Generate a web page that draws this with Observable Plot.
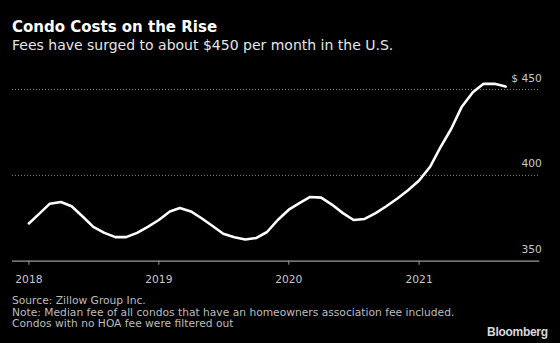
<!DOCTYPE html>
<html>
<head>
<meta charset="utf-8">
<script src="https://cdn.jsdelivr.net/npm/d3@7"></script>
<script src="https://cdn.jsdelivr.net/npm/@observablehq/plot@0.6"></script>
<style>
  html, body { margin: 0; padding: 0; background: #000; }
  #wrap { position: relative; width: 560px; height: 343px; background: #000; overflow: hidden; font-family: "DejaVu Sans", sans-serif; }
  .title { position: absolute; left: 12px; top: 19.6px; font-size: 15px; line-height: 15px; font-weight: bold; color: #fff; white-space: nowrap; }
  .subtitle { position: absolute; left: 12px; top: 38.2px; font-size: 14px; line-height: 14px; color: #e6e6e6; white-space: nowrap; }
  #chart { position: absolute; left: 0; top: 60px; }
  .foot { position: absolute; left: 12px; top: 294.8px; font-size: 10.7px; line-height: 11.7px; color: #bdbdbd; white-space: nowrap; }
  .brand { position: absolute; right: 12.3px; top: 325.8px; font-family: "Liberation Sans", Arial, sans-serif; font-weight: bold; font-size: 12px; line-height: 12px; letter-spacing: -0.3px; color: #d9d9d9; }
</style>
</head>
<body>
<div id="wrap">
  <div class="title">Condo Costs on the Rise</div>
  <div class="subtitle">Fees have surged to about $450 per month in the U.S.</div>
  <div id="chart"></div>
  <div class="foot">Source: Zillow Group Inc.<br>Note: Median fee of all condos that have an homeowners association fee included.<br>Condos with no HOA fee were filtered out</div>
  <div class="brand">Bloomberg</div>
</div>
<script>
// Monthly median condo HOA fee (USD), Jan 2018 – Sep 2021
const startMonth = "2018-01";
const fees = [
  372, 378, 383.5, 384.5, 382, 376, 370, 366.5, 364, 364, 366.5, 370,
  374, 379, 381, 379, 375, 370.5, 366, 364, 362.6, 363.5, 367, 374,
  380, 384, 387.4, 387, 383, 378, 374, 374.6, 378, 382, 386.5, 391.3,
  397, 405, 416, 427, 440, 448.4, 453.3, 453.3, 451.7
];
const xTickYears = [2018, 2019, 2020, 2021];
const yTicks = [350, 400, 450];
const yTickLabels = ["350", "400", "$ 450"];

const start = new Date(startMonth + "-01T00:00:00Z");
const data = fees.map((v, i) => ({date: d3.utcMonth.offset(start, i), value: v}));
const xTicks = xTickYears.map(y => new Date(Date.UTC(y, 0, 1)));
const yLabelRows = yTicks.map((v, i) => ({value: v, label: yTickLabels[i]}));

const chart = Plot.plot({
  width: 560,
  height: 230,
  marginLeft: 12,
  marginRight: 20.7,
  marginTop: 29,
  marginBottom: 29.3,
  style: {background: "transparent", fontFamily: "DejaVu Sans, sans-serif", fontSize: "10.7px", color: "#c8c8c8"},
  x: {type: "utc", domain: [new Date(Date.UTC(2017, 10, 16)), new Date(Date.UTC(2021, 11, 6))]},
  y: {domain: [350, 450], axis: null},
  marks: [
    Plot.ruleY(yTicks.filter(v => v !== 350), {stroke: "#8a8a8a", strokeDasharray: "1,2", strokeWidth: 1}),
    Plot.ruleY([350], {stroke: "#9a9a9a", strokeWidth: 1.3}),
    Plot.axisX({ticks: xTicks, tickFormat: d => String(d.getUTCFullYear()), tickSize: 4, tickPadding: 10, stroke: "#9a9a9a", fill: "#c8c8c8", fontSize: 10.7, label: null}),
    Plot.text(yLabelRows, {y: "value", text: "label", frameAnchor: "right", textAnchor: "end", lineAnchor: "bottom", dx: 2, dy: -8, fill: "#c8c8c8", fontSize: 10.7}),
    Plot.line(data, {x: "date", y: "value", stroke: "#fff", strokeWidth: 2.6, strokeLinejoin: "round", strokeLinecap: "round"})
  ]
});
document.getElementById("chart").appendChild(chart);
</script>
</body>
</html>
